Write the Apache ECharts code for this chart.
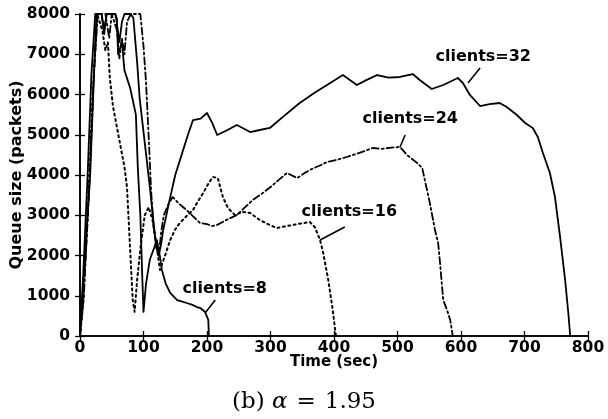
<!DOCTYPE html>
<html>
<head>
<meta charset="utf-8">
<script src="https://cdn.jsdelivr.net/npm/echarts@6/dist/echarts.min.js"></script>
<style>
  html, body { margin: 0; padding: 0; background: #fff; }
  #chart { width: 608px; height: 419px; }
</style>
</head>
<body>
<div id="chart"></div>
<script>
// Queue occupancy over time, one trace per client count: [time (sec), queue (packets)]
const clients8 = [
  [0,0],[5,1500],[12,4000],[18,6500],[24,8000],[34,8000],[38,7600],[42,8000],[55,8000],
  [58,7900],[60,7000],[66,7300],[70,6600],[79,6160],[88,5500],[91,4200],[95,3000],[98,1500],
  [100,600],[104,1300],[110,1900],[117,2200],[121,2385],[126,1963],[129,1640],[135,1300],
  [142,1070],[153,894],[160,860],[168,820],[176,780],[184,720],[190,690],[197,596],[202,400],
  [203,0]
];
const clients16 = [
  [0,0],[5,800],[12,3000],[20,6000],[27,8000],[35,7600],[40,7100],[44,7300],[47,6400],
  [52,5700],[58,5200],[64,4700],[70,4200],[74,3700],[79,2137],[83,900],[86,600],[90,1400],
  [96,2300],[102,3000],[108,3200],[114,2900],[120,2300],[126,1640],[134,2000],[142,2385],
  [150,2650],[157,2807],[168,2980],[178,3130],[186,3350],[194,3553],[202,3780],[209,3950],
  [217,3925],[225,3453],[233,3180],[244,3006],[256,3080],[268,3056],[283,2882],[296,2780],
  [310,2683],[322,2720],[335,2758],[350,2800],[362,2832],[370,2700],[378,2385],[383,2062],
  [391,1391],[398,646],[403,0]
];
const clients24 = [
  [0,0],[6,1000],[14,3500],[22,6500],[28,8000],[40,8000],[46,7400],[50,8000],[58,7600],
  [62,6900],[66,7400],[70,7000],[74,7800],[80,8000],[95,8000],[100,7200],[104,6300],
  [108,5000],[112,3600],[116,2700],[120,2300],[124,2000],[128,2600],[132,3000],[140,3300],
  [146,3453],[155,3300],[164,3180],[173,3056],[181,2930],[189,2807],[200,2780],[208,2730],
  [216,2760],[230,2880],[247,3006],[260,3200],[272,3379],[286,3530],[300,3700],[313,3880],
  [326,4050],[342,3925],[355,4060],[365,4150],[377,4230],[389,4323],[405,4380],[420,4447],
  [440,4550],[461,4671],[476,4650],[490,4680],[504,4696],[515,4497],[531,4298],[539,4174],
  [543,3876],[551,3300],[559,2634],[564,2311],[567,1814],[572,894],[578,646],[583,398],[587,0]
];
const clients32 = [
  [0,0],[8,2000],[16,4000],[22,6500],[26,8000],[34,8000],[38,7500],[42,8000],[56,8000],
  [62,7300],[66,7800],[70,8000],[80,8000],[84,7900],[90,6800],[94,5900],[102,4800],
  [110,3700],[116,2800],[120,2200],[124,2000],[128,2300],[131,2634],[140,3300],[150,4000],
  [160,4500],[170,5000],[178,5366],[190,5400],[200,5540],[208,5300],[216,4994],[230,5100],
  [247,5242],[268,5068],[283,5118],[299,5168],[320,5450],[346,5789],[370,6050],[389,6236],
  [414,6484],[436,6236],[450,6350],[468,6484],[486,6420],[504,6435],[524,6509],[535,6360],
  [554,6137],[572,6236],[595,6410],[603,6286],[614,5988],[630,5714],[645,5760],[661,5789],
  [672,5689],[688,5491],[701,5292],[713,5168],[721,4944],[729,4547],[740,4050],[748,3453],
  [756,2460],[764,1391],[769,571],[772,0]
];

// Curve labels at [time, queue], with leader lines from -> to
const labelNames = ['clients=8', 'clients=16', 'clients=24', 'clients=32'];
const labelPos = [[228,1168],[424,3081],[520,5391],[635,6932]];
const leaderFrom = [[213,894],[417,2708],[512,4994],[630,6658]];
const leaderTo = [[197,571],[378,2385],[504,4696],[611,6286]];

const xTicks = { min: 0, max: 800, step: 100 };
const yTicks = { min: 0, max: 8000, step: 1000 };

const FONT = 'DejaVu Sans';
const chart = echarts.init(document.getElementById('chart'), null, { renderer: 'canvas' });

const axisLine = { show: true, lineStyle: { color: '#000', width: 1.6 } };
const axisTick = { show: true, inside: true, length: 5, lineStyle: { color: '#000', width: 1.3 } };
const tickFont = {
  color: '#000', fontFamily: FONT, fontWeight: 'bold', fontSize: 15.5,
  formatter: (v) => String(v)
};

function lineSeries(name, data, dash, width) {
  return {
    name, type: 'line', data, showSymbol: false, symbol: 'none', clip: true,
    xAxisIndex: 0, yAxisIndex: 0,
    lineStyle: { color: '#000', width: width, type: dash, cap: 'round', join: 'round' },
    z: 3
  };
}

chart.setOption({
  animation: false,
  backgroundColor: '#fff',
  grid: { left: 80, right: 20, top: 14, bottom: 83, containLabel: false, outerBoundsMode: 'none' },
  title: {
    text: '{a|(b) }{i|α}{e|=}{a|1.95}',
    left: 'center', top: 386,
    textStyle: {
      fontWeight: 'normal',
      rich: {
        a: { fontFamily: 'DejaVu Serif', fontWeight: 'normal', fontSize: 23, color: '#000' },
        i: { fontFamily: 'DejaVu Serif', fontWeight: 'normal', fontStyle: 'italic', fontSize: 23, color: '#000' },
        e: { fontFamily: 'DejaVu Serif', fontWeight: 'normal', fontSize: 23, color: '#000', padding: [0, 9, 0, 9] }
      }
    }
  },
  xAxis: [
    {
      type: 'value', min: xTicks.min, max: xTicks.max, interval: xTicks.step,
      name: 'Time (sec)', nameLocation: 'middle', nameGap: 19, nameMoveOverlap: false,
      nameTextStyle: { color: '#000', fontFamily: FONT, fontWeight: 'bold', fontSize: 15 },
      axisLine, axisTick, splitLine: { show: false },
      axisLabel: Object.assign({ margin: 4 }, tickFont)
    },
    {
      type: 'value', position: 'top', min: xTicks.min, max: xTicks.max, interval: xTicks.step,
      axisLine, axisTick, splitLine: { show: false }, axisLabel: { show: false }
    }
  ],
  yAxis: [
    {
      type: 'value', min: yTicks.min, max: yTicks.max, interval: yTicks.step,
      name: 'Queue size (packets)', nameLocation: 'middle', nameGap: 55, nameMoveOverlap: false,
      nameTextStyle: { color: '#000', fontFamily: FONT, fontWeight: 'bold', fontSize: 16 },
      axisLine, axisTick, splitLine: { show: false },
      axisLabel: Object.assign({ margin: 10 }, tickFont)
    },
    {
      type: 'value', position: 'right', min: yTicks.min, max: yTicks.max, interval: yTicks.step,
      axisLine, axisTick, splitLine: { show: false }, axisLabel: { show: false }
    }
  ],
  series: [
    lineSeries('clients=8', clients8, 'solid', 1.8),
    lineSeries('clients=16', clients16, [2, 3.5], 2),
    lineSeries('clients=24', clients24, [7, 3, 2, 3], 1.8),
    lineSeries('clients=32', clients32, 'solid', 1.8),
    {
      type: 'lines', coordinateSystem: 'cartesian2d', xAxisIndex: 0, yAxisIndex: 0,
      polyline: false, symbol: 'none',
      lineStyle: { color: '#000', width: 1.6, opacity: 1 },
      data: leaderFrom.map((p, i) => ({ coords: [p, leaderTo[i]] })),
      z: 4
    },
    {
      type: 'scatter', xAxisIndex: 0, yAxisIndex: 0, symbolSize: 0,
      itemStyle: { color: '#000' },
      data: labelPos.map((p, i) => [p[0], p[1], labelNames[i]]),
      label: {
        show: true, position: 'inside', opacity: 1,
        formatter: (p) => p.data[2],
        color: '#000', fontFamily: FONT, fontWeight: 'bold', fontSize: 16
      },
      emphasis: { disabled: true },
      z: 5
    }
  ]
});
</script>
</body>
</html>
